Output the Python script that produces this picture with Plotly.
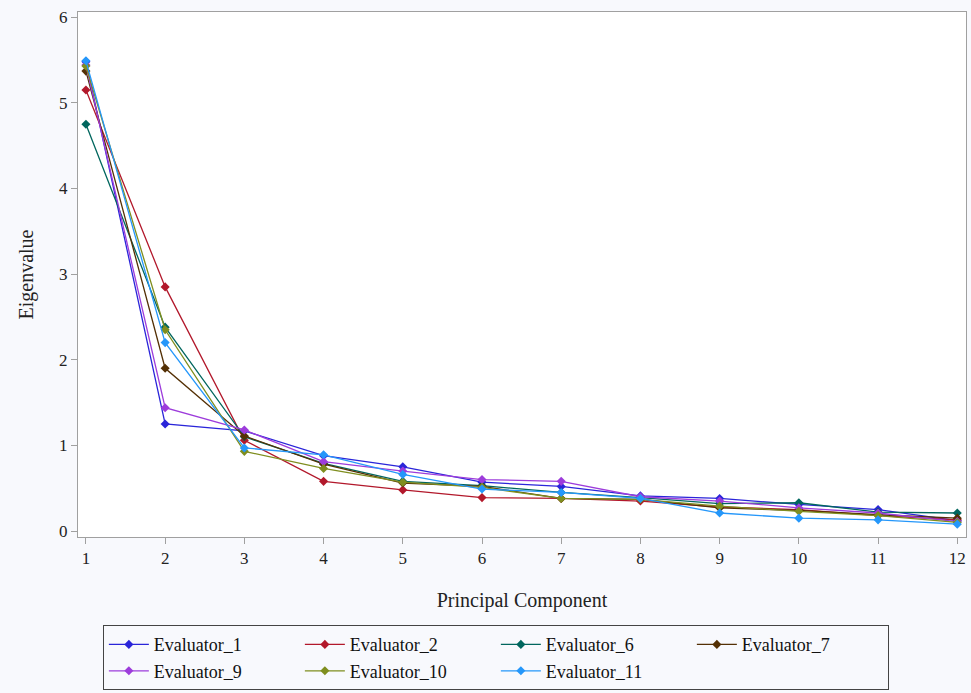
import plotly.graph_objects as go

components = [1, 2, 3, 4, 5, 6, 7, 8, 9, 10, 11, 12]

evaluator_1 = [5.48, 1.25, 1.17, 0.88, 0.75, 0.57, 0.52, 0.41, 0.38, 0.31, 0.25, 0.12]
evaluator_2 = [5.15, 2.85, 1.06, 0.58, 0.48, 0.39, 0.38, 0.35, 0.28, 0.25, 0.18, 0.13]
evaluator_6 = [4.75, 2.38, 1.10, 0.79, 0.58, 0.53, 0.45, 0.39, 0.32, 0.33, 0.22, 0.21]
evaluator_7 = [5.37, 1.90, 1.11, 0.78, 0.56, 0.52, 0.38, 0.37, 0.27, 0.24, 0.19, 0.15]
evaluator_9 = [5.44, 1.44, 1.18, 0.81, 0.70, 0.60, 0.58, 0.40, 0.35, 0.27, 0.21, 0.11]
evaluator_10 = [5.43, 2.35, 0.93, 0.73, 0.57, 0.51, 0.38, 0.37, 0.29, 0.23, 0.18, 0.10]
evaluator_11 = [5.49, 2.20, 0.97, 0.89, 0.66, 0.49, 0.45, 0.38, 0.21, 0.15, 0.13, 0.08]

series_names = ["Evaluator_1", "Evaluator_2", "Evaluator_6", "Evaluator_7",
                "Evaluator_9", "Evaluator_10", "Evaluator_11"]
series_values = [evaluator_1, evaluator_2, evaluator_6, evaluator_7,
                 evaluator_9, evaluator_10, evaluator_11]
colors = ["#2A25D9", "#B2182B", "#01665E", "#543005", "#9D3CDB", "#7F8E1F", "#2597FA"]

x_ticks = list(range(1, 13))
y_ticks = [0, 1, 2, 3, 4, 5, 6]

fig = go.Figure()
for name, vals, col in zip(series_names, series_values, colors):
    fig.add_trace(go.Scatter(
        x=components, y=vals, name=name, mode="lines+markers",
        line=dict(color=col, width=1.3),
        marker=dict(symbol="diamond", size=7, color=col),
    ))

font_family = "Liberation Serif, serif"
axis_color = "#A0A0A0"
fig.update_layout(
    width=971, height=693,
    paper_bgcolor="#F8F9FD",
    plot_bgcolor="#FFFFFF",
    margin=dict(l=78, r=5, t=12, b=156, autoexpand=False),
    font=dict(family=font_family, size=17, color="#222222"),
    showlegend=True,
    legend=dict(
        orientation="h", x=0.028, y=-0.168, xanchor="left", yanchor="top",
        entrywidth=141, entrywidthmode="pixels",
        bordercolor="#444444", borderwidth=1, bgcolor="#F8F9FD",
        font=dict(family=font_family, size=18, color="#111111"),
        tracegroupgap=0, itemwidth=40,
    ),
)
fig.update_xaxes(
    range=[0.9, 12.11], tickvals=x_ticks, ticks="outside", ticklen=6,
    tickcolor=axis_color, showline=True, linecolor=axis_color, linewidth=1,
    mirror=True, showgrid=False, zeroline=False, automargin=False,
    tickfont=dict(family=font_family, size=17),
    title=dict(text="Principal Component", standoff=25,
               font=dict(family=font_family, size=20)),
)
fig.update_yaxes(
    range=[-0.07, 6.06], tickvals=y_ticks, ticks="outside", ticklen=6,
    tickcolor=axis_color, showline=True, linecolor=axis_color, linewidth=1,
    mirror=True, showgrid=False, zeroline=False, automargin=False,
    tickfont=dict(family=font_family, size=17),
    title=dict(text="Eigenvalue", standoff=20,
               font=dict(family=font_family, size=20)),
)

fig.write_html(
    "out.html",
    config={"displayModeBar": False},
    post_script="document.body.style.margin='0';document.body.style.background='#F8F9FD';",
)
